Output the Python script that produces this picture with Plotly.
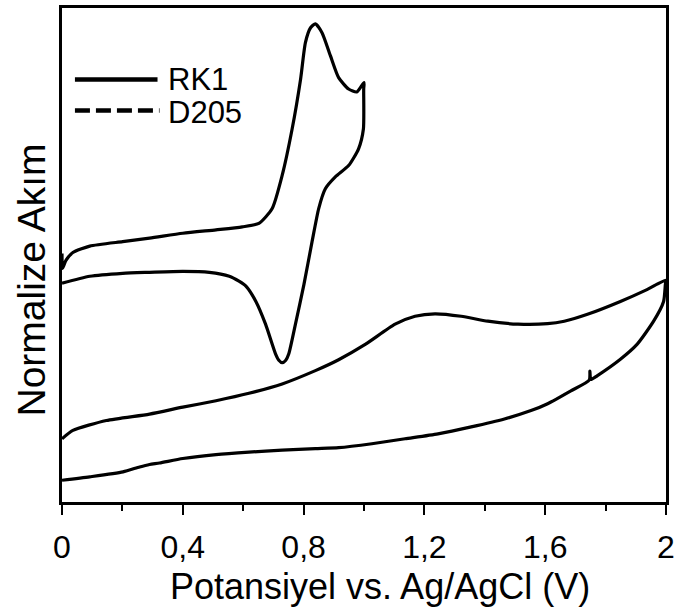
import plotly.graph_objects as go

# RK1 cyclic voltammogram (potential in V, normalized current, arbitrary units)
rk1_v = [0.000, 0.002, 0.013, 0.036, 0.092, 0.201, 0.290, 0.400, 0.510, 0.597, 0.652,
         0.696, 0.729, 0.762, 0.790, 0.806, 0.823, 0.839, 0.861, 0.889, 0.916, 0.949,
         0.976, 1.000,
         0.999, 0.998, 0.982, 0.949, 0.905, 0.872, 0.850, 0.828, 0.801, 0.773, 0.751,
         0.741, 0.729, 0.718, 0.707, 0.674, 0.642, 0.609, 0.586, 0.554, 0.488, 0.400,
         0.290, 0.201, 0.092, 0.000]
rk1_i = [0.503, 0.473, 0.489, 0.505, 0.518, 0.527, 0.534, 0.544, 0.551, 0.557, 0.564,
         0.594, 0.661, 0.755, 0.856, 0.930, 0.960, 0.968, 0.950, 0.903, 0.859, 0.836,
         0.830, 0.849,
         0.836, 0.755, 0.715, 0.681, 0.658, 0.634, 0.594, 0.527, 0.440, 0.360, 0.300,
         0.287, 0.282, 0.287, 0.300, 0.360, 0.406, 0.437, 0.447, 0.457, 0.465, 0.467,
         0.465, 0.463, 0.457, 0.443]

# D205 cyclic voltammogram
d205_v = [0.000, 0.036, 0.147, 0.290, 0.400, 0.510, 0.619, 0.729, 0.839, 0.916, 1.004,
          1.103, 1.169, 1.235, 1.322, 1.410, 1.510, 1.608, 1.663, 1.740, 1.849, 1.937,
          2.000,
          1.998, 1.992, 1.959, 1.904, 1.849, 1.773, 1.751, 1.748, 1.746, 1.685, 1.608,
          1.553, 1.465, 1.355, 1.245, 1.136, 1.026, 0.916, 0.839, 0.729, 0.619, 0.510,
          0.400, 0.323, 0.290, 0.257, 0.202, 0.092, 0.000]
d205_i = [0.128, 0.145, 0.165, 0.178, 0.192, 0.205, 0.220, 0.239, 0.266, 0.288, 0.319,
          0.360, 0.376, 0.381, 0.376, 0.366, 0.360, 0.361, 0.366, 0.380, 0.406, 0.430,
          0.449,
          0.441, 0.406, 0.366, 0.319, 0.289, 0.256, 0.248, 0.265, 0.247, 0.225, 0.199,
          0.185, 0.168, 0.152, 0.138, 0.128, 0.118, 0.110, 0.108, 0.105, 0.101, 0.096,
          0.088, 0.079, 0.076, 0.071, 0.061, 0.051, 0.044]

series_names = ["RK1", "D205"]
x_title = "Potansiyel vs. Ag/AgCl (V)"
y_title = "Normalize Akım"

FONT = "Arial, Liberation Sans, Helvetica, sans-serif"

fig = go.Figure()
fig.add_trace(go.Scatter(x=rk1_v, y=rk1_i, mode="lines", name=series_names[0],
                         line=dict(color="black", width=3.2, shape="spline", smoothing=0.6)))
fig.add_trace(go.Scatter(x=d205_v, y=d205_i, mode="lines", name=series_names[1],
                         line=dict(color="black", width=3.2, shape="spline", smoothing=0.6)))

L, R, T, B = 62, 11, 5, 106
W, H = 680, 608
pw, ph = W - L - R, H - T - B

def px(x):
    return (x - L) / pw

def py(y):
    return (H - B - y) / ph

shapes = [
    dict(type="line", xref="paper", yref="paper", x0=px(75), x1=px(158), y0=py(77), y1=py(77),
         line=dict(color="black", width=4.5)),
    dict(type="line", xref="paper", yref="paper", x0=px(75), x1=px(160), y0=py(108), y1=py(108),
         line=dict(color="black", width=4.5, dash="15px,6px")),
]
annotations = [
    dict(text=series_names[0], xref="paper", yref="paper", x=px(167), y=py(77), xanchor="left",
         yanchor="middle", showarrow=False, font=dict(family=FONT, size=31, color="black")),
    dict(text=series_names[1], xref="paper", yref="paper", x=px(167), y=py(110), xanchor="left",
         yanchor="middle", showarrow=False, font=dict(family=FONT, size=31, color="black")),
    dict(text=x_title, xref="paper", yref="paper", x=px(382), y=py(587), xanchor="center",
         yanchor="middle", showarrow=False, font=dict(family=FONT, size=36, color="black")),
    dict(text=y_title, xref="paper", yref="paper", x=px(31), y=py(279), xanchor="center",
         yanchor="middle", textangle=-90, showarrow=False,
         font=dict(family=FONT, size=39, color="black")),
]

fig.update_layout(
    width=W, height=H,
    margin=dict(l=L, r=R, t=T, b=B),
    paper_bgcolor="white", plot_bgcolor="white",
    showlegend=False,
    separators=",.",
    font=dict(family=FONT, color="black"),
    shapes=shapes,
    annotations=annotations,
)
fig.update_xaxes(range=[0, 2], tick0=0, dtick=0.4, showgrid=False, zeroline=False,
                 showline=True, linecolor="black", linewidth=2.5, mirror=True,
                 ticks="outside", ticklen=10, tickwidth=2, tickcolor="black",
                 ticklabelstandoff=5,
                 tickfont=dict(family=FONT, size=32, color="black"),
                 minor=dict(dtick=0.2, tick0=0, ticks="outside", ticklen=6, tickwidth=2,
                            tickcolor="black", showgrid=False))
fig.update_yaxes(range=[0, 1], showgrid=False, zeroline=False, showticklabels=False,
                 showline=True, linecolor="black", linewidth=2.5, mirror=True, ticks="")

fig.write_html("out.html")
